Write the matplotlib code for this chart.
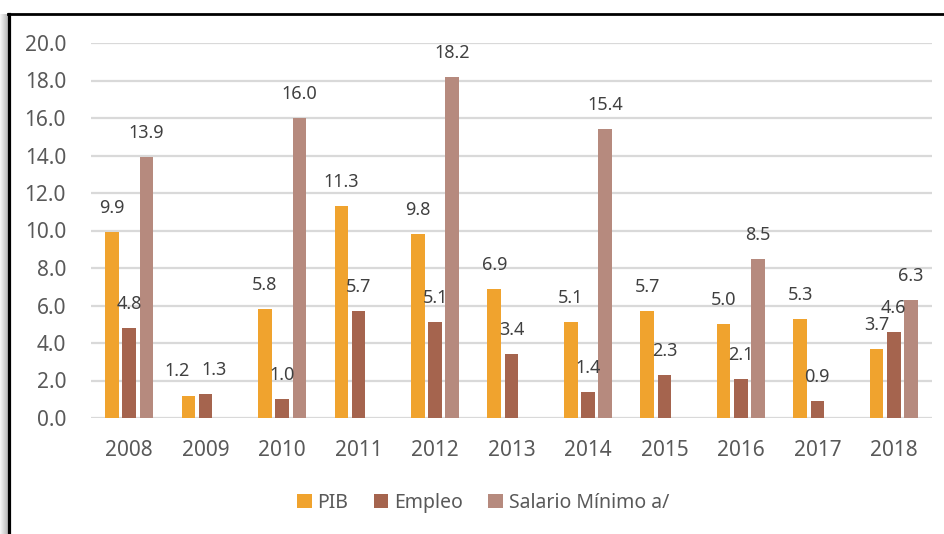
import matplotlib
matplotlib.use('Agg')
import matplotlib.pyplot as plt
import numpy as np
from matplotlib.lines import Line2D

years = ['2008', '2009', '2010', '2011', '2012', '2013', '2014', '2015', '2016', '2017', '2018']
pib = [9.9, 1.2, 5.8, 11.3, 9.8, 6.9, 5.1, 5.7, 5.0, 5.3, 3.7]
empleo = [4.8, 1.3, 1.0, 5.7, 5.1, 3.4, 1.4, 2.3, 2.1, 0.9, 4.6]
salario = [13.9, None, 16.0, None, 18.2, None, 15.4, None, 8.5, None, 6.3]

series_names = ['PIB', 'Empleo', 'Salario Mínimo a/']
colors = ['#F0A32E', '#A5644E', '#B68A7E']
txt = '#595959'

plt.rcParams['font.family'] = ['Noto Sans', 'DejaVu Sans']

W, H = 944, 534
fig = plt.figure(figsize=(W / 100, H / 100), dpi=100)
ax = fig.add_axes([91 / W, 1 - 418 / H, (932 - 91) / W, (418 - 43) / H])

x = np.arange(len(years))
pitch = 0.225
bw = 0.178
for k, (vals, c, name) in enumerate(zip([pib, empleo, salario], colors, series_names)):
    xs = [xi + (k - 1) * pitch for xi, v in zip(x, vals) if v is not None]
    vs = [v for v in vals if v is not None]
    ax.bar(xs, vs, width=bw, color=c, label=name, zorder=3)

# data labels, pushed apart sideways when neighbours sit at nearly the same height
for i in x:
    group = [pib[i], empleo[i], salario[i]]
    for k, v in enumerate(group):
        if v is None:
            continue
        dx = 0
        if k == 0 and group[1] is not None and abs(group[1] - v) < 0.5:
            dx = -11
        if k == 1 and group[0] is not None and abs(group[0] - v) < 0.5:
            dx = 8
        ax.annotate(f'{v:.1f}', (i + (k - 1) * pitch, v), xytext=(dx, 24), textcoords='offset pixels',
                    ha='center', va='center', fontsize=13, color='#404040', zorder=4)

ax.set_xlim(-0.5, len(years) - 0.5)
ax.set_ylim(0, 20)
ax.set_yticks(np.arange(0, 20.1, 2))
ax.set_yticklabels([f'{t:.1f}' for t in np.arange(0, 20.1, 2)])
ax.set_xticks(x)
ax.set_xticklabels(years)
ax.grid(axis='y', color='#D9D9D9', linewidth=1.6, zorder=0)
ax.tick_params(axis='both', length=0, labelsize=15, colors=txt)
ax.tick_params(axis='y', pad=18)
ax.tick_params(axis='x', pad=16)
for s in ax.spines.values():
    s.set_visible(False)

leg = fig.legend(loc='center', bbox_to_anchor=(483 / W, 1 - 503 / H), ncol=3, frameon=False,
                 fontsize=14, handlelength=0.75, handleheight=0.75, handletextpad=0.3,
                 columnspacing=1.3)
for t in leg.get_texts():
    t.set_color(txt)

# chart frame (cropped) with a left shadow
sh = fig.add_axes([0, 0, 8 / W, 1 - 14 / H])
sh.imshow(np.linspace(0.97, 0.72, 20).reshape(1, -1), cmap='gray', vmin=0, vmax=1, aspect='auto')
sh.axis('off')
fig.add_artist(Line2D([8.8 / W, 8.8 / W], [0, 1 - 13.5 / H], color='black', linewidth=2.3, transform=fig.transFigure))
fig.add_artist(Line2D([7.5 / W, 1], [1 - 14 / H, 1 - 14 / H], color='black', linewidth=2.0, transform=fig.transFigure))

fig.savefig('out.png', dpi=100)
